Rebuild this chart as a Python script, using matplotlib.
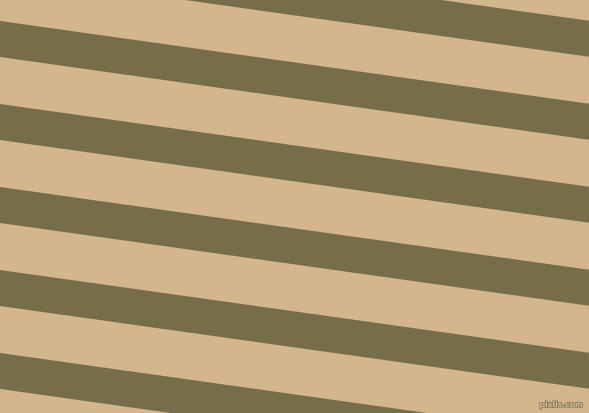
import numpy as np
import matplotlib
matplotlib.use('Agg')
from matplotlib import pyplot as plt
import matplotlib.patheffects as pe

# stripe data (pixel units, y measured from the top)
width_px = 589
height_px = 414
angle_deg = 8
band_tops = [-61, 22, 105, 188, 271, 354]   # top edge of each dark band at x = 0
band_height = 36
light_color = '#D3B68B'
dark_color = '#766E4A'

fig = plt.figure(figsize=(5.89, 4.14), dpi=100)
ax = fig.add_axes([0, 0, 1, 1])
ax.set_facecolor(light_color)
fig.patch.set_facecolor(light_color)

slope = np.tan(np.radians(angle_deg))
x = np.array([0, width_px])
for top in band_tops:
    upper = top + slope * x
    ax.fill_between(x, upper, upper + band_height, color=dark_color, linewidth=0)

ax.set_xlim(0, width_px)
ax.set_ylim(height_px, 0)
ax.axis('off')

ax.text(583, 410, 'pixlis.com', fontsize=5.5, color='#D3B68B', ha='right', va='bottom',
        fontweight='bold',
        path_effects=[pe.withStroke(linewidth=1.2, foreground='#8a7f68')])

fig.savefig('out.png', dpi=100, facecolor=light_color)
